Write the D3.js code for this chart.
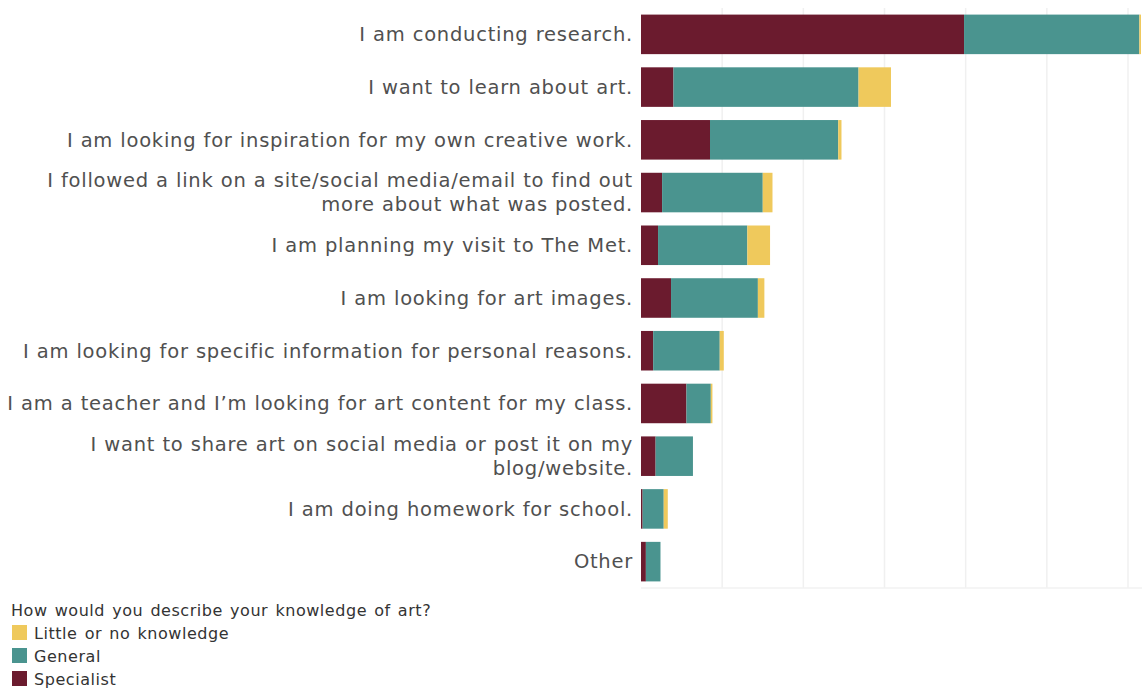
<!DOCTYPE html>
<html>
<head>
<meta charset="utf-8">
<script src="https://cdn.jsdelivr.net/npm/d3@7"></script>
<style>
  body { margin: 0; background: #fff; }
  svg { display: block; font-family: "DejaVu Sans", sans-serif; }
</style>
</head>
<body>
<svg id="chart" width="1142" height="688"></svg>
<script>
// answers, top to bottom ("\n" marks a wrapped line)
const reasons = [
  "I am conducting research.",
  "I want to learn about art.",
  "I am looking for inspiration for my own creative work.",
  "I followed a link on a site/social media/email to find out\nmore about what was posted.",
  "I am planning my visit to The Met.",
  "I am looking for art images.",
  "I am looking for specific information for personal reasons.",
  "I am a teacher and I\u2019m looking for art content for my class.",
  "I want to share art on social media or post it on my\nblog/website.",
  "I am doing homework for school.",
  "Other"
]

// series values (percent-ish units)
const specialist = [19.9, 2.0, 4.25, 1.3, 1.05, 1.85, 0.75, 2.8, 0.9, 0.1, 0.3]
const general    = [10.8, 11.4, 7.9, 6.2, 5.5, 5.35, 4.1, 1.5, 2.3, 1.3, 0.9]
const little     = [0.1, 2.0, 0.2, 0.6, 1.4, 0.4, 0.25, 0.1, 0.0, 0.25, 0.0]

const seriesKeys = ["specialist", "general", "little"]
const seriesNames = {
  little: "Little or no knowledge",
  general: "General",
  specialist: "Specialist"
}
const legendOrder = ["little", "general", "specialist"]
const legendTitle = "How would you describe your knowledge of art?"
const gridTicks = [0, 5, 10, 15, 20, 25, 30]

const colors = {
  specialist: "#6b1b2e",
  general: "#4a948f",
  little: "#efc95c"
}

const rows = reasons.map((r, i) => ({
  reason: r,
  specialist: specialist[i],
  general: general[i],
  little: little[i]
}))

const svg = d3.select("#chart")

const x = d3.scaleLinear().domain([0, 30]).range([641, 1128])
const y = d3.scaleBand()
  .domain(reasons)
  .range([8, 588])
  .paddingInner(0.25)
  .paddingOuter(0.125)

// gridlines
svg.append("g").attr("class", "grid")
  .selectAll("line")
  .data(gridTicks.slice(1))
  .join("line")
    .attr("x1", d => x(d)).attr("x2", d => x(d))
    .attr("y1", 8).attr("y2", 588)
    .attr("stroke", "#f0f0f0")
    .attr("stroke-width", 1.5)

svg.append("line")
  .attr("x1", x(0)).attr("x2", 1142)
  .attr("y1", 588).attr("y2", 588)
  .attr("stroke", "#f2f2f2")
  .attr("stroke-width", 1.5)

// stacked bars
const stacked = d3.stack().keys(seriesKeys)(rows)

svg.append("g").attr("class", "bars")
  .selectAll("g")
  .data(stacked)
  .join("g")
    .attr("fill", s => colors[s.key])
  .selectAll("rect")
  .data(s => s)
  .join("rect")
    .attr("x", d => x(d[0]))
    .attr("width", d => Math.max(0, x(d[1]) - x(d[0])))
    .attr("y", d => y(d.data.reason))
    .attr("height", y.bandwidth())

// category labels
const labels = svg.append("g").attr("class", "labels")
  .selectAll("text")
  .data(reasons)
  .join("text")
    .attr("text-anchor", "end")
    .attr("fill", "#505050")
    .style("font-size", "19.5px")
    .style("word-spacing", "0.3px")
    .style("letter-spacing", "0.75px")
    .attr("transform", d => `translate(633,${y(d) + y.bandwidth() / 2})`)

labels.each(function (d) {
  const lines = d.split("\n")
  const t = d3.select(this)
  const lh = 24
  lines.forEach((ln, i) => {
    t.append("tspan")
      .attr("x", 0)
      .attr("y", (i - (lines.length - 1) / 2) * lh)
      .attr("dy", "0.35em")
      .text(ln)
  })
})

// legend
const legend = svg.append("g").attr("class", "legend").attr("transform", "translate(11,0)")
legend.append("text")
  .attr("x", 0).attr("y", 616)
  .attr("fill", "#333")
  .style("font-size", "16px")
  .style("word-spacing", "1.5px")
  .style("letter-spacing", "0.55px")
  .text(legendTitle)

const items = legend.selectAll("g.item")
  .data(legendOrder)
  .join("g")
    .attr("class", "item")
    .attr("transform", (d, i) => `translate(0,${633 + i * 23})`)

items.append("rect")
  .attr("x", 1).attr("y", -8)
  .attr("width", 15).attr("height", 15)
  .attr("fill", d => colors[d])

items.append("text")
  .attr("x", 23).attr("y", 0)
  .attr("dy", "0.35em")
  .attr("fill", "#333")
  .style("font-size", "16px")
  .style("word-spacing", "1.5px")
  .style("letter-spacing", "0.55px")
  .text(d => seriesNames[d])
</script>
</body>
</html>
